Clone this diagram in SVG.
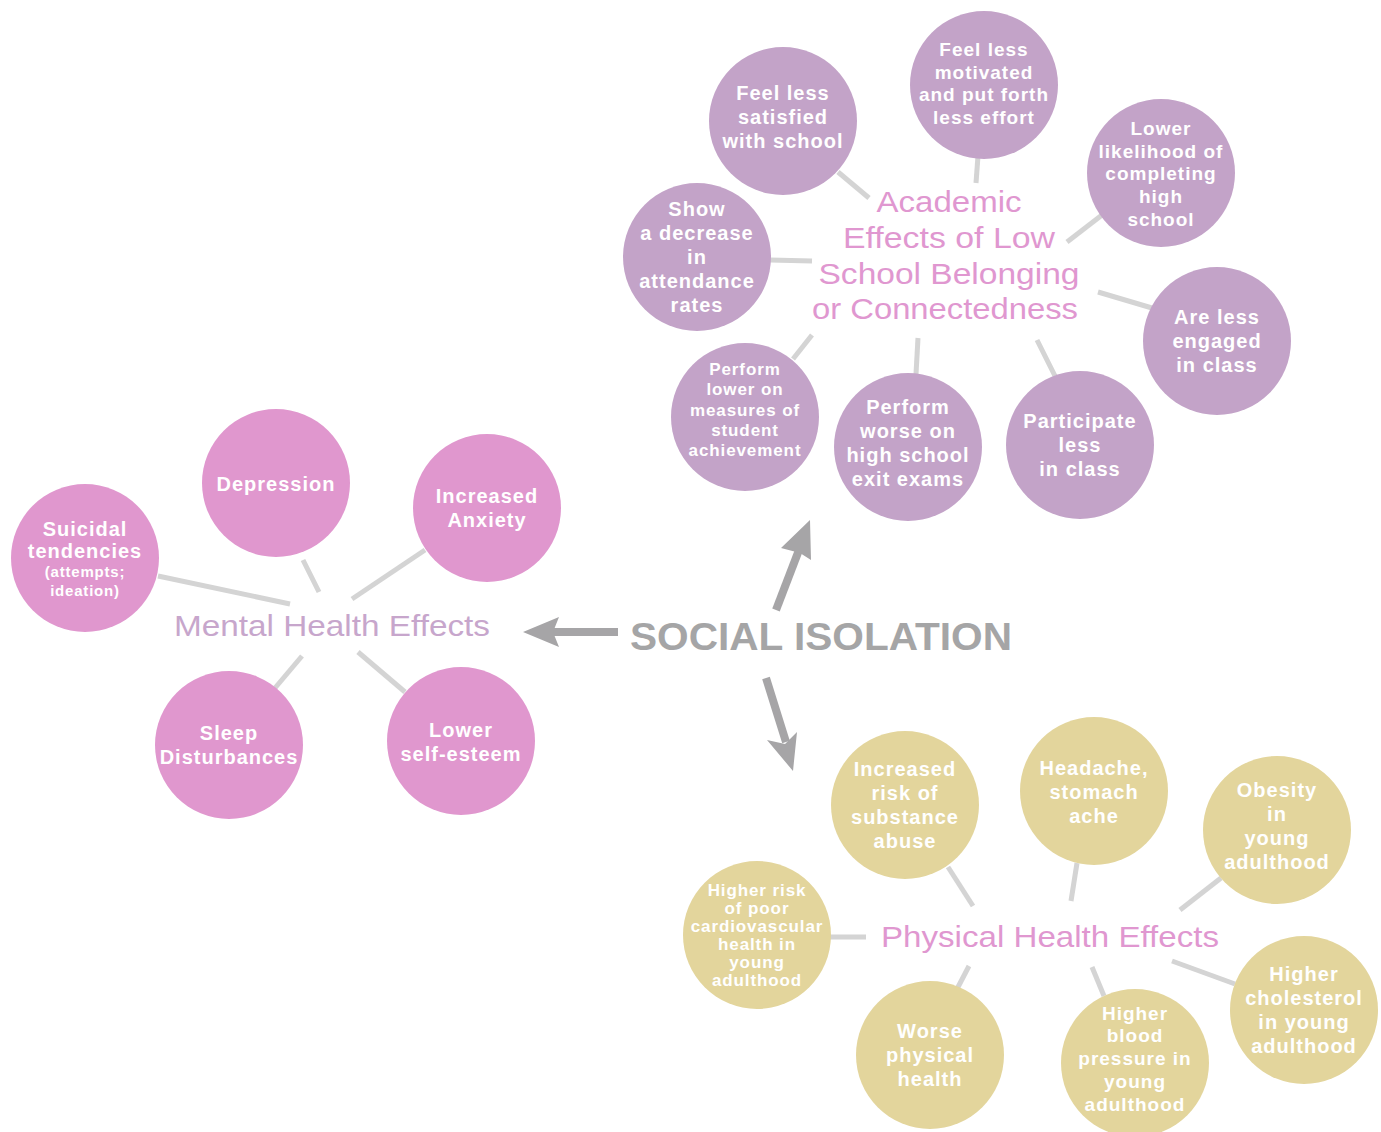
<svg xmlns="http://www.w3.org/2000/svg" width="1381" height="1132" viewBox="0 0 1381 1132">
  <style>
    .bg { fill: #ffffff; }
    .mental { fill: #E097CE; }
    .academic { fill: #C3A3C8; }
    .physical { fill: #E3D59C; }
    .link { stroke: #D4D4D4; stroke-width: 5; fill: none; }
    .arrow { stroke: #A6A5A7; stroke-width: 8; fill: none; }
    .head { fill: #A6A5A7; }
    .t { font-family: "Liberation Sans", Arial, sans-serif; font-weight: bold; fill: #ffffff; text-anchor: middle; font-size: 20px; letter-spacing: 1px; }
    .s17 { font-size: 17px; letter-spacing: 0.9px; }
    .s19 { font-size: 19px; }
    .s15 { font-size: 15px; letter-spacing: 0.8px; }
    .hub { font-family: "Liberation Sans", Arial, sans-serif; text-anchor: middle; font-size: 30px; }
    .hubm { fill: #C7A6CC; }
    .hubp { fill: #E097D0; }
    .title { font-family: "Liberation Sans", Arial, sans-serif; font-weight: bold; font-size: 38px; fill: #A5A5A6; }
  </style>
  <rect class="bg" x="0" y="0" width="1381" height="1132"/>

  <!-- spokes from each hub label to its circles -->
  <g id="connectors">
    <line class="link" x1="158" y1="576" x2="290" y2="604"/>
    <line class="link" x1="303" y1="560" x2="319" y2="592"/>
    <line class="link" x1="425" y1="550" x2="352" y2="599"/>
    <line class="link" x1="302" y1="656" x2="275" y2="688"/>
    <line class="link" x1="358" y1="652" x2="405" y2="692"/>

    <line class="link" x1="838" y1="172" x2="869" y2="198"/>
    <line class="link" x1="978" y1="156" x2="976" y2="183"/>
    <line class="link" x1="1102" y1="215" x2="1067" y2="242"/>
    <line class="link" x1="770" y1="260" x2="812" y2="261"/>
    <line class="link" x1="1098" y1="292" x2="1152" y2="308"/>
    <line class="link" x1="812" y1="335" x2="793" y2="359"/>
    <line class="link" x1="918" y1="338" x2="916" y2="374"/>
    <line class="link" x1="1037" y1="340" x2="1055" y2="376"/>

    <line class="link" x1="948" y1="867" x2="973" y2="906"/>
    <line class="link" x1="1077" y1="863" x2="1071" y2="901"/>
    <line class="link" x1="1221" y1="878" x2="1180" y2="910"/>
    <line class="link" x1="829" y1="937" x2="866" y2="937"/>
    <line class="link" x1="969" y1="966" x2="957" y2="989"/>
    <line class="link" x1="1092" y1="967" x2="1104" y2="996"/>
    <line class="link" x1="1172" y1="961" x2="1235" y2="984"/>

    <!-- arrows out of the central label -->
    <line class="arrow" x1="618" y1="632" x2="552" y2="632"/>
    <polygon class="head" points="523,632 559,617 553,632 559,647"/>
    <line class="arrow" x1="776" y1="610" x2="799" y2="550"/>
    <polygon class="head" points="810,520 811,560 800,553 781,548"/>
    <line class="arrow" x1="766" y1="678" x2="786" y2="742"/>
    <polygon class="head" points="793,771 767,740 785,744 797,732"/>
  </g>

  <g id="social-isolation">
    <text class="title" x="630" y="650" textLength="382" lengthAdjust="spacingAndGlyphs">SOCIAL ISOLATION</text>
  </g>

  <!-- Mental health cluster -->
  <g id="mental-hub"><text class="hub hubm" x="332" y="636" textLength="316" lengthAdjust="spacingAndGlyphs">Mental Health Effects</text></g>
  <g id="depression">
    <circle class="mental" cx="276" cy="483" r="74"/>
    <text class="t" x="276" y="491">Depression</text>
  </g>
  <g id="anxiety">
    <circle class="mental" cx="487" cy="508" r="74"/>
    <text class="t" x="487" y="503">Increased</text>
    <text class="t" x="487" y="527">Anxiety</text>
  </g>
  <g id="suicidal">
    <circle class="mental" cx="85" cy="558" r="74"/>
    <text class="t" x="85" y="536">Suicidal</text>
    <text class="t" x="85" y="558">tendencies</text>
    <text class="t s15" x="85" y="577">(attempts;</text>
    <text class="t s15" x="85" y="596">ideation)</text>
  </g>
  <g id="sleep">
    <circle class="mental" cx="229" cy="745" r="74"/>
    <text class="t" x="229" y="740">Sleep</text>
    <text class="t" x="229" y="764">Disturbances</text>
  </g>
  <g id="self-esteem">
    <circle class="mental" cx="461" cy="741" r="74"/>
    <text class="t" x="461" y="737">Lower</text>
    <text class="t" x="461" y="761">self-esteem</text>
  </g>

  <!-- Academic cluster -->
  <g id="academic-hub">
    <text class="hub hubp" x="949" y="212" textLength="145" lengthAdjust="spacingAndGlyphs">Academic</text>
    <text class="hub hubp" x="949" y="248" textLength="212" lengthAdjust="spacingAndGlyphs">Effects of Low</text>
    <text class="hub hubp" x="949" y="284" textLength="261" lengthAdjust="spacingAndGlyphs">School Belonging</text>
    <text class="hub hubp" x="945" y="319" textLength="266" lengthAdjust="spacingAndGlyphs">or Connectedness</text>
  </g>
  <g id="satisfied">
    <circle class="academic" cx="783" cy="121" r="74"/>
    <text class="t" x="783" y="100">Feel less</text>
    <text class="t" x="783" y="124">satisfied</text>
    <text class="t" x="783" y="148">with school</text>
  </g>
  <g id="motivated">
    <circle class="academic" cx="984" cy="85" r="74"/>
    <text class="t s19" x="984" y="56">Feel less</text>
    <text class="t s19" x="984" y="79">motivated</text>
    <text class="t s19" x="984" y="101">and put forth</text>
    <text class="t s19" x="984" y="124">less effort</text>
  </g>
  <g id="completing">
    <circle class="academic" cx="1161" cy="173" r="74"/>
    <text class="t s19" x="1161" y="135">Lower</text>
    <text class="t s19" x="1161" y="158">likelihood of</text>
    <text class="t s19" x="1161" y="180">completing</text>
    <text class="t s19" x="1161" y="203">high</text>
    <text class="t s19" x="1161" y="226">school</text>
  </g>
  <g id="attendance">
    <circle class="academic" cx="697" cy="257" r="74"/>
    <text class="t" x="697" y="216">Show</text>
    <text class="t" x="697" y="240">a decrease</text>
    <text class="t" x="697" y="264">in</text>
    <text class="t" x="697" y="288">attendance</text>
    <text class="t" x="697" y="312">rates</text>
  </g>
  <g id="engaged">
    <circle class="academic" cx="1217" cy="341" r="74"/>
    <text class="t" x="1217" y="324">Are less</text>
    <text class="t" x="1217" y="348">engaged</text>
    <text class="t" x="1217" y="372">in class</text>
  </g>
  <g id="achievement">
    <circle class="academic" cx="745" cy="417" r="74"/>
    <text class="t s17" x="745" y="375">Perform</text>
    <text class="t s17" x="745" y="395">lower on</text>
    <text class="t s17" x="745" y="416">measures of</text>
    <text class="t s17" x="745" y="436">student</text>
    <text class="t s17" x="745" y="456">achievement</text>
  </g>
  <g id="exit-exams">
    <circle class="academic" cx="908" cy="447" r="74"/>
    <text class="t" x="908" y="414">Perform</text>
    <text class="t" x="908" y="438">worse on</text>
    <text class="t" x="908" y="462">high school</text>
    <text class="t" x="908" y="486">exit exams</text>
  </g>
  <g id="participate">
    <circle class="academic" cx="1080" cy="445" r="74"/>
    <text class="t" x="1080" y="428">Participate</text>
    <text class="t" x="1080" y="452">less</text>
    <text class="t" x="1080" y="476">in class</text>
  </g>

  <!-- Physical cluster -->
  <g id="physical-hub"><text class="hub hubp" x="1050" y="947" textLength="338" lengthAdjust="spacingAndGlyphs">Physical Health Effects</text></g>
  <g id="substance">
    <circle class="physical" cx="905" cy="805" r="74"/>
    <text class="t" x="905" y="776">Increased</text>
    <text class="t" x="905" y="800">risk of</text>
    <text class="t" x="905" y="824">substance</text>
    <text class="t" x="905" y="848">abuse</text>
  </g>
  <g id="headache">
    <circle class="physical" cx="1094" cy="791" r="74"/>
    <text class="t" x="1094" y="775">Headache,</text>
    <text class="t" x="1094" y="799">stomach</text>
    <text class="t" x="1094" y="823">ache</text>
  </g>
  <g id="obesity">
    <circle class="physical" cx="1277" cy="830" r="74"/>
    <text class="t" x="1277" y="797">Obesity</text>
    <text class="t" x="1277" y="821">in</text>
    <text class="t" x="1277" y="845">young</text>
    <text class="t" x="1277" y="869">adulthood</text>
  </g>
  <g id="cardiovascular">
    <circle class="physical" cx="757" cy="935" r="74"/>
    <text class="t s17" x="757" y="896">Higher risk</text>
    <text class="t s17" x="757" y="914">of poor</text>
    <text class="t s17" x="757" y="932">cardiovascular</text>
    <text class="t s17" x="757" y="950">health in</text>
    <text class="t s17" x="757" y="968">young</text>
    <text class="t s17" x="757" y="986">adulthood</text>
  </g>
  <g id="cholesterol">
    <circle class="physical" cx="1304" cy="1010" r="74"/>
    <text class="t" x="1304" y="981">Higher</text>
    <text class="t" x="1304" y="1005">cholesterol</text>
    <text class="t" x="1304" y="1029">in young</text>
    <text class="t" x="1304" y="1053">adulthood</text>
  </g>
  <g id="worse-health">
    <circle class="physical" cx="930" cy="1055" r="74"/>
    <text class="t" x="930" y="1038">Worse</text>
    <text class="t" x="930" y="1062">physical</text>
    <text class="t" x="930" y="1086">health</text>
  </g>
  <g id="blood-pressure">
    <circle class="physical" cx="1135" cy="1063" r="74"/>
    <text class="t s19" x="1135" y="1020">Higher</text>
    <text class="t s19" x="1135" y="1042">blood</text>
    <text class="t s19" x="1135" y="1065">pressure in</text>
    <text class="t s19" x="1135" y="1088">young</text>
    <text class="t s19" x="1135" y="1111">adulthood</text>
  </g>
</svg>
